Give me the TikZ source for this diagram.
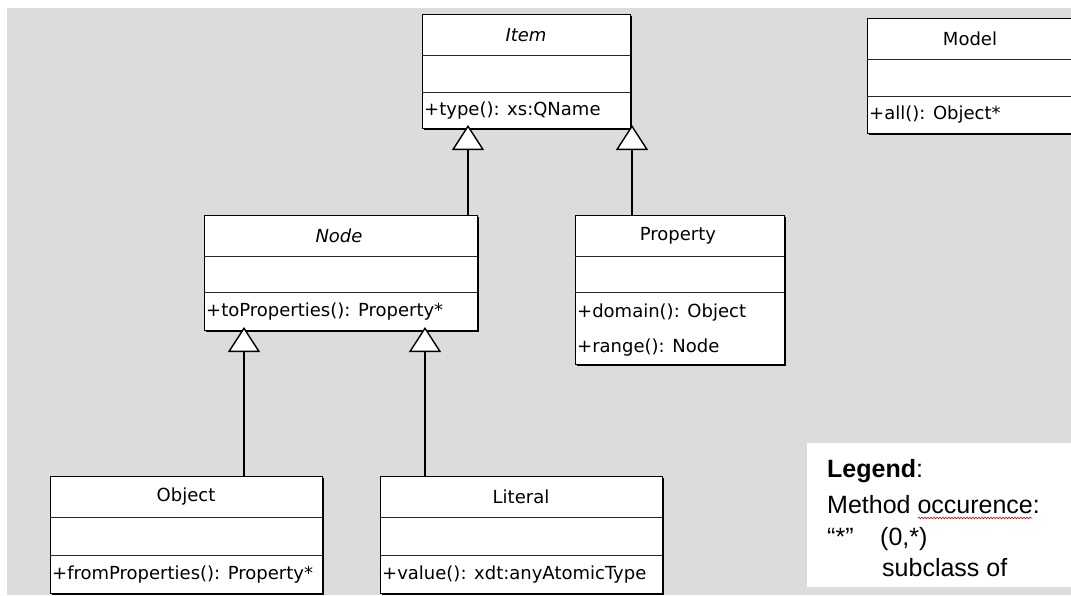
\documentclass[tikz,border=0pt]{standalone}
\usepackage{fontspec}
\setmainfont{DejaVu Sans}
\newfontfamily\legendfont{Liberation Sans}
\usetikzlibrary{arrows.meta,decorations.pathmorphing}
\definecolor{canvas}{RGB}{220,220,220}

\tikzset{
  classbox/.style={draw=black, fill=white, line width=1pt, inner sep=0pt,
    outer sep=0pt, anchor=north west},
  sepline/.style={draw=black!85, line width=1pt},
  shadowline/.style={draw=black, line width=2pt},
  classtitle/.style={inner sep=0pt, font=\fontsize{18}{20}\selectfont},
  classop/.style={inner sep=0pt, anchor=west, font=\fontsize{18}{20}\selectfont},
  generalization/.style={draw=black, line width=1.4pt, shorten >=-3pt,
    -{Triangle[fill=white, length=25pt, width=32pt]}},
  legendtext/.style={inner sep=0pt, anchor=base west,
    font=\legendfont\fontsize{25}{28}\selectfont},
}

% \umlclass{name}{left}{top}{width}{height}{first separator y}{second separator y}
\newcommand\umlclass[7]{%
  \node[classbox, minimum width=#4pt, minimum height=#5pt] (#1) at (#2,#3) {};
  \draw[sepline] (#2,#6) -- ({#2+#4},#6);
  \draw[sepline] (#2,#7) -- ({#2+#4},#7);
  \draw[shadowline] ({#2+#4+1},{#3+2}) -- ({#2+#4+1},{#3+#5+1}) -- ({#2+2},{#3+#5+1});
}

\begin{document}
\begin{tikzpicture}[x=1pt, y=-1pt]
  \useasboundingbox (0,0) rectangle (1071,595);
  \clip (0,0) rectangle (1071,595);
  \fill[white] (0,0) rectangle (1071,595);
  \fill[canvas] (7,8) rectangle (1071,595);

  % class boxes
  \umlclass{Item}{422}{14}{208}{114}{55}{92}
  \umlclass{Model}{867}{18}{210}{115}{59}{96}
  \umlclass{Node}{204}{215}{273}{115}{256}{292}
  \umlclass{Property}{575}{215}{209}{149}{256}{292}
  \umlclass{Object}{50}{476}{272}{117}{517}{555}
  \umlclass{Literal}{380}{476}{282}{117}{517}{555}

  % class names
  \node[classtitle] (itemname) at (526,35) {\itshape Item};
  \node[classtitle] (modelname) at (970,39) {Model};
  \node[classtitle] (nodename) at (339,236) {\itshape Node};
  \node[classtitle] (propertyname) at (678,236) {Property};
  \node[classtitle] (objectname) at (186,497) {Object};
  \node[classtitle] (literalname) at (521,497) {Literal};

  % operations
  \node[classop] (itemop) at (424,111) {+type(): xs:QName};
  \node[classop] (modelop) at (869,115) {+all(): Object*};
  \node[classop] (nodeop) at (206,312) {+toProperties(): Property*};
  \node[classop] (domainop) at (577,313) {+domain(): Object};
  \node[classop] (rangeop) at (577,348) {+range(): Node};
  \node[classop] (objectop) at (52,575) {+fromProperties(): Property*};
  \node[classop] (literalop) at (382,575) {+value(): xdt:anyAtomicType};

  % generalizations
  \draw[generalization] (Node.north -| 468,0) -- (Item.south -| 468,0);
  \draw[generalization] (Property.north -| 632,0) -- (Item.south -| 632,0);
  \draw[generalization] (Object.north -| 244,0) -- (Node.south -| 244,0);
  \draw[generalization] (Literal.north -| 425,0) -- (Node.south -| 425,0);

  % legend
  \fill[white] (807,443) rectangle (1071,587);
  \node[legendtext] (legendhead) at (827,477) {\textbf{Legend}:};
  \node[legendtext] (legendocc) at (827,513) {Method occurence:};
  \node[legendtext] (legendstar) at (827,545) {“*”};
  \node[legendtext] (legendrange) at (880,545) {(0,*)};
  \node[legendtext] (legendsub) at (882,576) {subclass of};
  \draw[red!80!black, line width=0.6pt, decorate,
    decoration={snake, amplitude=0.8pt, segment length=3pt}]
    (918,518) -- (1032,518);
\end{tikzpicture}
\end{document}
